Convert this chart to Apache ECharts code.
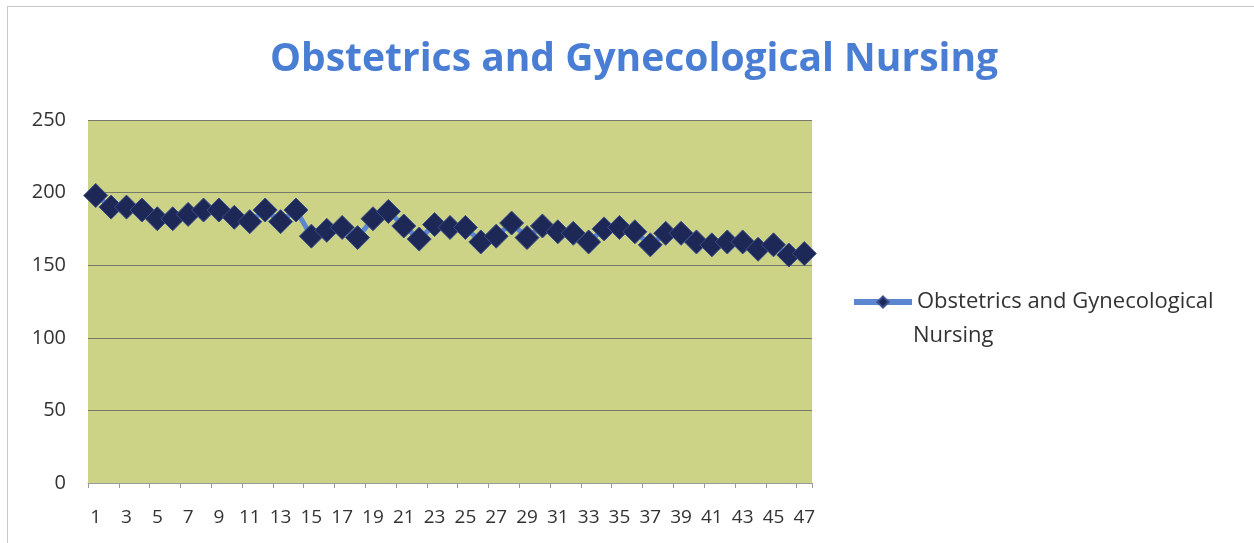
<!DOCTYPE html>
<html>
<head>
<meta charset="utf-8">
<script src="https://cdn.jsdelivr.net/npm/echarts@6/dist/echarts.min.js"></script>
<style>
  html, body { margin: 0; padding: 0; background: #fff; }
  #chart { width: 1254px; height: 543px; }
  .frame { position: absolute; left: 7px; top: 6px; width: 1250px; height: 540px; border: 1px solid #c8c8c8; box-sizing: border-box; pointer-events: none; }
</style>
</head>
<body>
<div id="chart"></div>
<div class="frame"></div>
<script>
// 数据
const seriesName = 'Obstetrics and Gynecological Nursing';
const legendLine1 = 'Obstetrics and Gynecological';
const legendLine2 = 'Nursing';
const categories = [];
for (let i = 1; i <= 47; i++) categories.push(String(i));
const scores = [
  198, 190, 190, 188, 182, 182, 185, 188, 188, 183,
  180, 188, 180, 188, 170, 174, 176, 169, 182, 187,
  177, 168, 178, 176, 176, 166, 170, 179, 169, 177,
  173, 172, 166, 175, 176, 173, 164, 172, 172, 166,
  164, 166, 166, 161, 164, 157, 158
];
const yTicks = [0, 50, 100, 150, 200, 250];

const chart = echarts.init(document.getElementById('chart'));

const option = {
  backgroundColor: '#ffffff',
  animation: false,
  title: {
    text: seriesName,
    left: 265,
    top: 35,
    textStyle: {
      fontFamily: 'Open Sans',
      fontWeight: 'bold',
      fontSize: 39,
      color: '#4a7ed4'
    }
  },
  legend: {
    data: [seriesName],
    left: 846,
    top: 286,
    itemWidth: 58,
    itemHeight: 14,
    formatter: () => legendLine1,
    lineStyle: { width: 6, color: '#5b86d0' },
    itemStyle: { color: '#1e2856' },
    textStyle: {
      fontFamily: 'Open Sans',
      fontSize: 22,
      color: '#333'
    }
  },
  graphic: [
    {
      type: 'text',
      left: 913,
      top: 325,
      style: {
        text: legendLine2,
        fontFamily: 'Open Sans',
        fontSize: 22,
        fill: '#333'
      }
    }
  ],
  grid: {
    left: 88,
    right: 442,
    top: 120,
    bottom: 60,
    show: true,
    backgroundColor: '#ccd286',
    borderWidth: 0
  },
  xAxis: {
    type: 'category',
    data: categories,
    boundaryGap: true,
    axisLine: { lineStyle: { color: '#999', width: 1 } },
    axisTick: { show: true, alignWithLabel: false, length: 5, lineStyle: { color: '#999' } },
    axisLabel: {
      interval: 1,
      fontFamily: 'Open Sans',
      fontSize: 19,
      color: '#333',
      margin: 25
    }
  },
  yAxis: {
    type: 'value',
    min: yTicks[0],
    max: yTicks[yTicks.length - 1],
    interval: 50,
    axisLine: { show: false },
    axisTick: { show: false },
    splitLine: { lineStyle: { color: '#77776a', width: 1 } },
    axisLabel: {
      fontFamily: 'Open Sans',
      fontSize: 20,
      color: '#333',
      margin: 22
    }
  },
  series: [
    {
      name: seriesName,
      type: 'line',
      data: scores,
      symbol: 'diamond',
      symbolSize: 24,
      showSymbol: true,
      showAllSymbol: true,
      lineStyle: { color: '#5b86d0', width: 5 },
      itemStyle: { color: '#1e2856', borderColor: '#3b4f8f', borderWidth: 1 }
    }
  ]
};

chart.setOption(option);
</script>
</body>
</html>
